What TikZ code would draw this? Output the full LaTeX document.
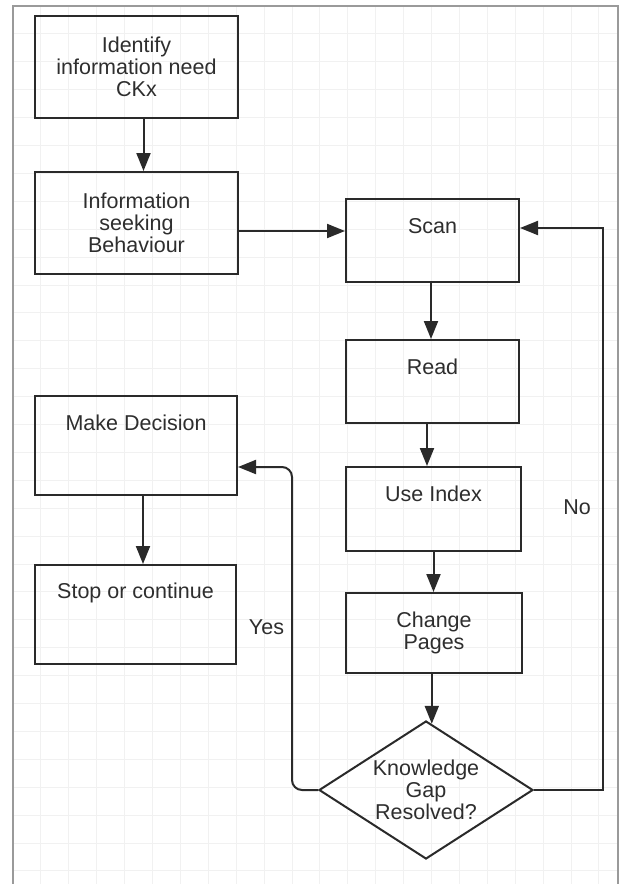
\documentclass[tikz,border=0pt]{standalone}
\usepackage{fontspec}
\setmainfont{Liberation Sans}
\usetikzlibrary{arrows.meta,shapes.geometric}
\definecolor{ink}{HTML}{2A2A2A}
\definecolor{txtc}{HTML}{2E2E2E}
\definecolor{gridc}{HTML}{F1F1F1}
\definecolor{framec}{HTML}{9A9A9A}
\begin{document}
\begin{tikzpicture}[x=1pt,y=-1pt,
  box/.style={draw=ink,line width=2pt,rectangle,inner sep=0pt,fill=none},
  dec/.style={draw=ink,line width=2pt,diamond,inner sep=0pt,minimum width=214pt,minimum height=138pt},
  txt/.style={text=txtc,font=\fontsize{21.5}{22}\selectfont,align=center,inner sep=0pt},
  arr/.style={draw=ink,line width=2pt,-{Triangle[length=18pt,width=14pt]}},
  roundarr/.style={arr,rounded corners=10pt}
]
\useasboundingbox (0,0) rectangle (619,884);
\fill[white] (0,0) rectangle (619,884);
% faint grid
\foreach \i in {0,...,22} {\draw[gridc,line width=1pt] (13+27.9*\i,6) -- (13+27.9*\i,884);}
\foreach \j in {0,...,31} {\draw[gridc,line width=1pt] (13,6+27.9*\j) -- (618,6+27.9*\j);}
% frame
\draw[framec,line width=1.5pt] (13,884) -- (13,6) -- (618,6) -- (618,884);

% boxes
\node[box,minimum width=203pt,minimum height=102pt] (b1) at (136.5,67) {};
\node[box,minimum width=203pt,minimum height=102pt] (b2) at (136.5,223) {};
\node[box,minimum width=173pt,minimum height=83pt] (scan) at (432.5,240.5) {};
\node[box,minimum width=173pt,minimum height=83pt] (read) at (432.5,381.5) {};
\node[box,minimum width=175pt,minimum height=84pt] (useidx) at (433.5,509) {};
\node[box,minimum width=176pt,minimum height=80pt] (change) at (434,633) {};
\node[box,minimum width=202pt,minimum height=99pt] (md) at (136,445.5) {};
\node[box,minimum width=201pt,minimum height=99pt] (stop) at (135.5,614.5) {};
\node[dec] (dia) at (426,790) {};

% texts
\node[txt] (t1) at (b1.center) {Identify\\information need\\CKx};
\node[txt] (t2) at (b2.center) {Information\\seeking\\Behaviour};
\node[txt] (t3) at ([yshift=-28pt]scan.north) {Scan};
\node[txt] (t4) at ([yshift=-28pt]read.north) {Read};
\node[txt] (t5) at ([yshift=-28pt]useidx.north) {Use Index};
\node[txt] (t6) at (change.center) {Change\\Pages};
\node[txt] (t7) at ([yshift=-28pt]md.north) {Make Decision};
\node[txt] (t8) at ([yshift=-29pt]stop.north) {Stop or continue};
\node[txt] (t9) at (dia.center) {Knowledge\\Gap\\Resolved?};
\node[txt] (yes) at (266.5,627) {Yes};
\node[txt] (no) at (577,507) {No};

% connectors
\draw[arr] ([xshift=7pt]b1.south) -- ([xshift=7pt]b2.north);
\draw[arr] ([yshift=-8pt]b2.east) -- ([yshift=-8pt]b2.east -| scan.west);
\draw[arr] ([xshift=-1.5pt]scan.south) -- ([xshift=-1.5pt]read.north);
\draw[arr] ([xshift=-5.5pt]read.south) -- ([xshift=-5.5pt]read.south |- useidx.north);
\draw[arr] (useidx.south) -- (useidx.south |- change.north);
\draw[arr] (dia.85 |- change.south) -- (dia.85);
\draw[arr] ([xshift=7pt]md.south) -- ([xshift=7pt]md.south |- stop.north);
\coordinate (nA) at (603,790);
\coordinate (nB) at (603,228);
\draw[arr] (dia.east) -- (nA) -- (nB) -- (nB -| scan.east);
\coordinate (yA) at (292,790);
\coordinate (yB) at (292,467);
\draw[roundarr] (dia.west) -- (yA) -- (yB) -- (yB -| md.east);
\end{tikzpicture}
\end{document}
